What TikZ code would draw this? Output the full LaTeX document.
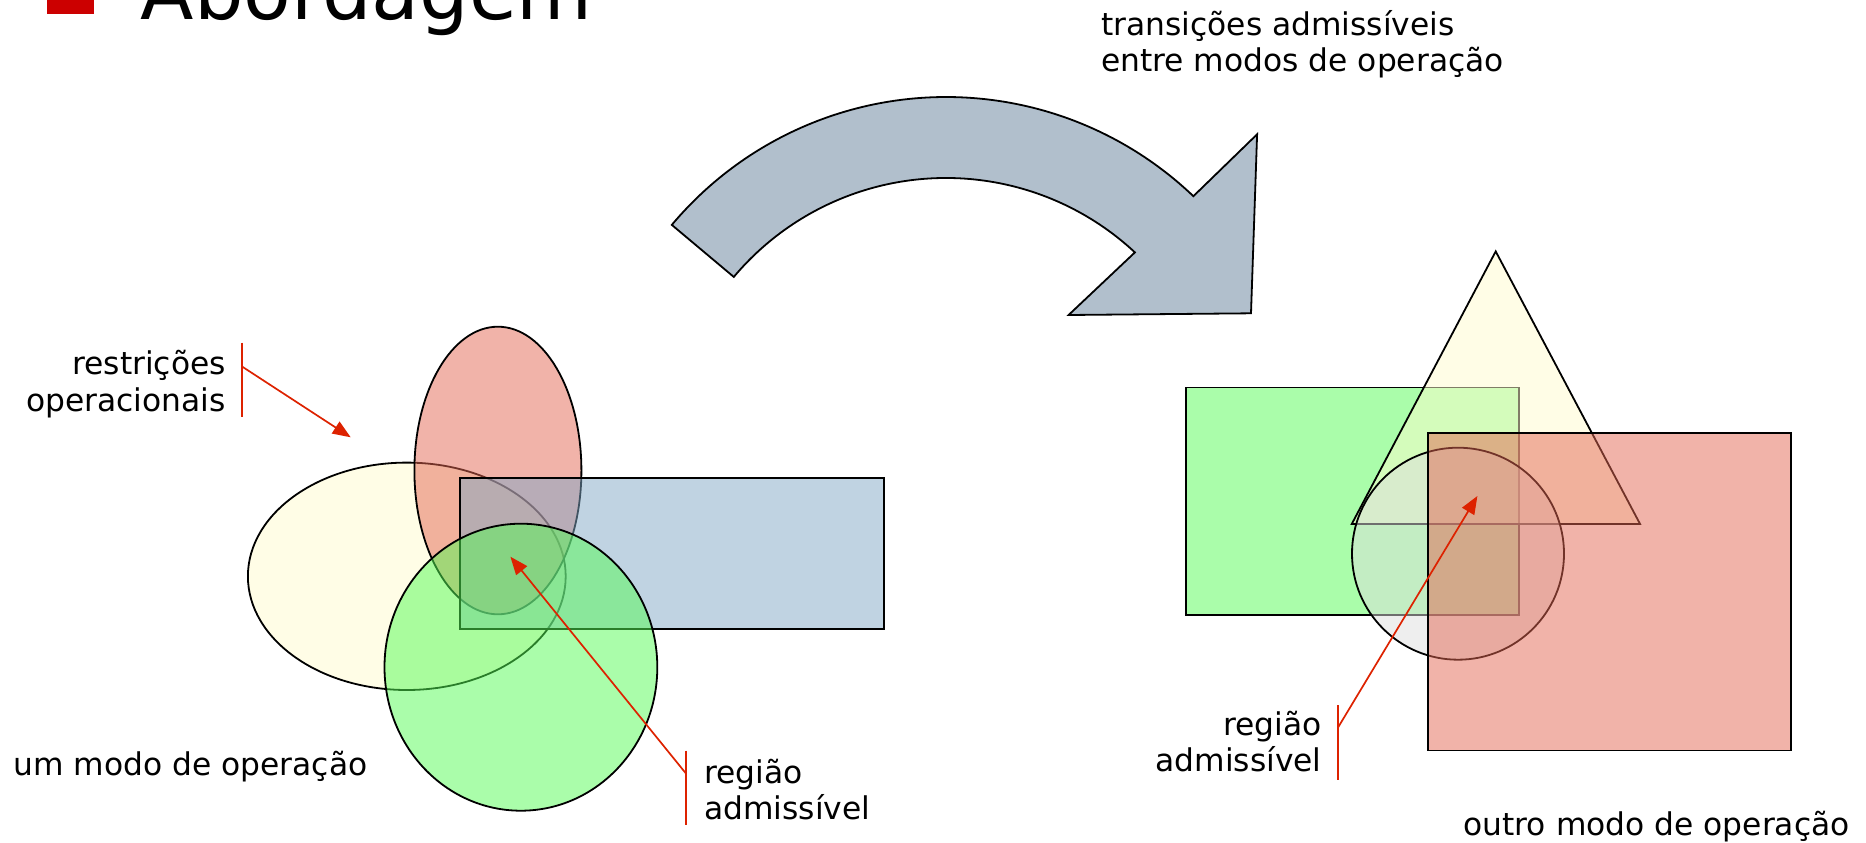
\documentclass[tikz,border=0pt]{standalone}
\usepackage{fontspec}
\setmainfont{DejaVu Sans}
\usetikzlibrary{arrows.meta}

\definecolor{titlered}{RGB}{204,0,0}
\definecolor{calloutred}{RGB}{221,34,0}
\definecolor{arrowgray}{RGB}{177,191,204}
\definecolor{yellowfill}{RGB}{255,251,205}
\definecolor{pinkfill}{RGB}{227,103,83}
\definecolor{bluefill}{RGB}{129,167,197}
\definecolor{greenfill}{RGB}{85,251,85}
\definecolor{grayfill}{RGB}{221,221,221}

\begin{document}
\begin{tikzpicture}[x=1pt,y=-1pt,
  region/.style={draw=black, line width=1.8pt, fill opacity=0.5},
  callout/.style={draw=calloutred, line width=1.7pt},
  calloutarrow/.style={callout, -{Triangle[length=18pt,width=14pt]}},
  lbl/.style={inner sep=0pt, font=\fontsize{31.3}{36.5}\selectfont},
  titlelbl/.style={inner sep=0pt, font=\fontsize{78}{90}\selectfont}]

\clip (0,0) rectangle (1866,843);

% title, cut by the top edge
\fill[titlered] (47,-33) rectangle (94,14);
\node[titlelbl, anchor=base west] (title) at (140.6,19.3) {Abordagem};

% curved transition arrow
\draw[fill=arrowgray, line width=1.8pt, line join=miter]
  (671.8,224.9) arc[start angle=-140, end angle=-46.3, radius=358]
  -- (1257.1,134.3) -- (1251,313.3) -- (1068.6,315) -- (1134.9,252.4)
  arc[start angle=-47, end angle=-140, radius=277] -- cycle;

\node[lbl, anchor=base west] (trans1) at (1101,36) {transições admissíveis};
\node[lbl, anchor=base west] (trans2) at (1101,71.7) {entre modos de operação};

% first mode of operation
\draw[region, fill=yellowfill] (406.8,576.3) ellipse [x radius=158.9, y radius=113.7];
\draw[region, fill=pinkfill] (497.9,470.5) ellipse [x radius=83.5, y radius=143.8];
\draw[region, fill=bluefill] (459.9,478.3) rectangle (884,629.3);
\draw[region, fill=greenfill] (520.9,667.2) ellipse [x radius=136.4, y radius=143.5];

% second mode of operation
\draw[region, fill=greenfill] (1185.6,387.5) rectangle (1519,614.6);
\draw[region, fill=yellowfill, line join=miter] (1495.7,251.4) -- (1640,523.9) -- (1351.8,523.9) -- cycle;
\draw[region, fill=grayfill] (1458,553.7) circle [radius=106];
\draw[region, fill=pinkfill] (1427.6,433.2) rectangle (1791,750.4);

% callout: restrições operacionais
\coordinate (rtop) at (242.3,342.7);
\coordinate (rbot) at (242.3,417.3);
\coordinate (rjoin) at (242.3,366.7);
\coordinate (rtip) at (350.7,437.3);
\draw[callout] (rtop) -- (rbot);
\draw[calloutarrow] (rjoin) -- (rtip);
\node[lbl, anchor=base east] (restr1) at (226,374.3) {restrições};
\node[lbl, anchor=base east] (restr2) at (226,411) {operacionais};

% callout: região admissível (left)
\coordinate (ltop) at (685.8,750.7);
\coordinate (lbot) at (685.8,825);
\coordinate (ljoin) at (685.8,773.3);
\coordinate (ltip) at (510.4,556.7);
\draw[callout] (ltop) -- (lbot);
\draw[calloutarrow] (ljoin) -- (ltip);
\node[lbl, anchor=base west] (lreg1) at (704,783) {região};
\node[lbl, anchor=base west] (lreg2) at (704,819.3) {admissível};

% callout: região admissível (right)
\coordinate (qtop) at (1338,705);
\coordinate (qbot) at (1338,780);
\coordinate (qjoin) at (1338,727.5);
\coordinate (qtip) at (1477.4,496);
\draw[callout] (qtop) -- (qbot);
\draw[calloutarrow] (qjoin) -- (qtip);
\node[lbl, anchor=base east] (rreg1) at (1321.7,735.5) {região};
\node[lbl, anchor=base east] (rreg2) at (1321.7,771.7) {admissível};

% captions
\node[lbl, anchor=base west] (mode1) at (13.3,775.7) {um modo de operação};
\node[lbl, anchor=base west] (mode2) at (1463.3,835) {outro modo de operação};

\end{tikzpicture}
\end{document}
